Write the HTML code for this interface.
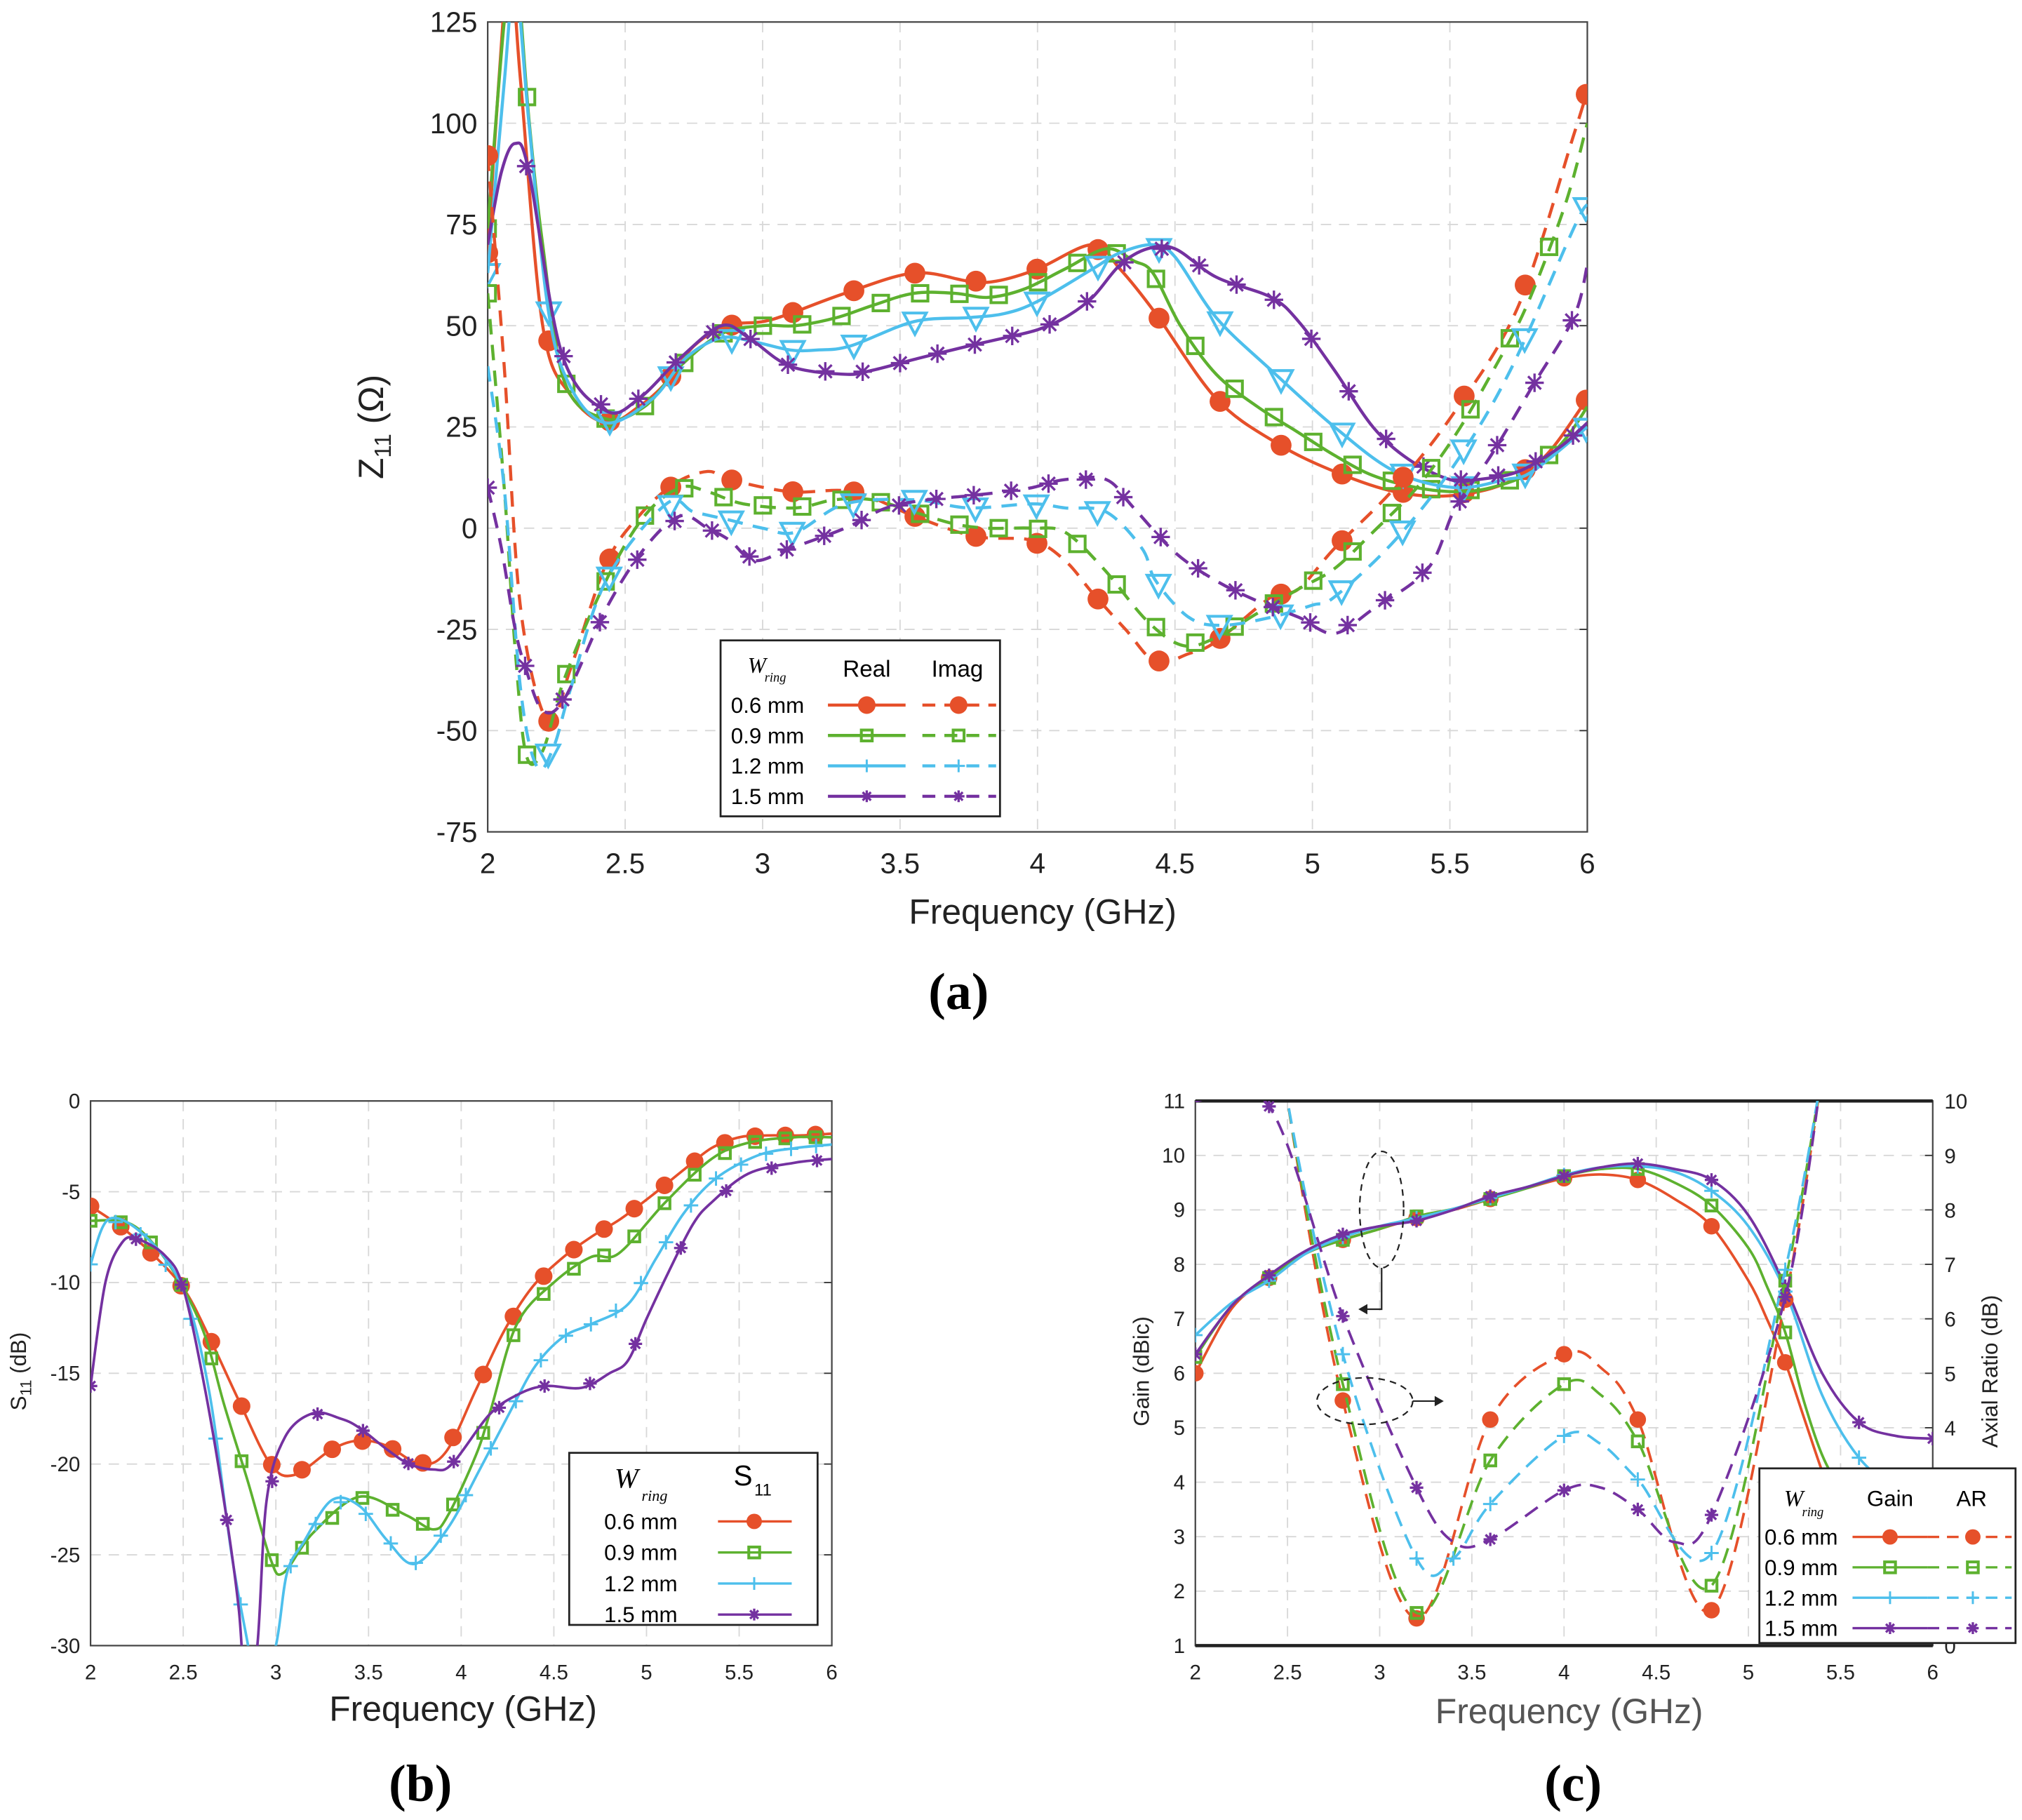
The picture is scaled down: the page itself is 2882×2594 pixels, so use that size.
<!DOCTYPE html>
<html><head><meta charset="utf-8">
<style>
html,body{margin:0;padding:0;background:#fff;}
svg{display:block;font-family:"Liberation Sans",sans-serif;}
</style></head>
<body>
<svg id="fig" width="2882" height="2594" viewBox="0 0 1563 1406.8" preserveAspectRatio="none" xmlns="http://www.w3.org/2000/svg">
<defs>
<clipPath id="clipA"><rect x="377" y="17" width="850" height="626"/></clipPath>
<clipPath id="clipB"><rect x="70" y="851" width="573" height="421"/></clipPath>
<clipPath id="clipC"><rect x="924" y="851" width="570" height="421"/></clipPath>
</defs>
<g id="root"></g>
</svg>
<script>
// ---------- Panel (a) data: Z11 real / imag ----------
const aReal06F=[2,2.04,2.08,2.12,2.2,2.3,2.43,2.55,2.65,2.75,2.87,3.0,3.1,3.3,3.55,3.75,3.85,4.0,4.2,4.3,4.43,4.65,4.87,5.08,5.3,5.5,5.7,5.85,6];
const aReal06V=[68,110,140,110,50,33,26,30,36,45,50,51,53,58,63,61,61,64,70,64,53,32,21,14,9,8,11,18,32];
const aReal09F=[2,2.06,2.1,2.15,2.2,2.28,2.43,2.57,2.7,2.85,3.0,3.12,3.27,3.4,3.55,3.7,3.82,3.95,4.1,4.25,4.35,4.42,4.52,4.65,4.8,4.94,5.08,5.22,5.38,5.52,5.65,5.8,5.92,6];
const aReal09V=[74,125,140,101,70,36,27,30,40,48,50,50,52,55,58,58,57,59,64,69,66,63,50,38,30,24,18,13,10,9,10,14,22,30];
const aReal12F=[2,2.06,2.1,2.15,2.22,2.3,2.43,2.6,2.72,2.85,2.97,3.1,3.2,3.32,3.55,3.75,3.88,4.0,4.2,4.3,4.42,4.5,4.65,4.85,5.08,5.3,5.52,5.7,5.8,6];
const aReal12V=[63,110,135,100,54,35,26,32,42,47,46,44,44,45,51,52,53,56,64,68,70,67,52,39,25,14,10,12,14,25];
const aReal15F=[2,2.05,2.1,2.15,2.27,2.43,2.55,2.7,2.85,2.95,3.1,3.3,3.4,3.57,3.75,3.88,4.0,4.1,4.2,4.3,4.4,4.5,4.65,4.85,4.95,5.08,5.22,5.35,5.5,5.6,5.75,5.9,6];
const aReal15V=[70,88,95,88,43,29,32,42,50,47,40,38,39,42,45,47,49,52,57,65,69,69,62,57,51,39,25,17,12,12,14,20,26];
const aImag06F=[2,2.06,2.12,2.22,2.3,2.43,2.55,2.68,2.8,2.88,3.1,3.33,3.55,3.77,3.98,4.1,4.2,4.32,4.43,4.55,4.65,4.85,4.95,5.08,5.3,5.52,5.75,5.95,6];
const aImag06V=[92,40,-20,-48,-35,-9,3,11,14,12,9,9,3,-2,-3,-8,-16,-25,-33,-31,-28,-17,-15,-5,10,29,55,97,108];
const aImag09F=[2,2.06,2.1,2.14,2.2,2.28,2.43,2.57,2.7,2.8,2.93,3.12,3.26,3.4,3.55,3.7,3.82,3.98,4.1,4.24,4.4,4.53,4.65,4.8,4.95,5.08,5.22,5.38,5.52,5.65,5.78,5.92,6];
const aImag09V=[58,10,-30,-56,-55,-37,-13,3,10,9,6,5,7,7,4,1,0,0,-1,-10,-23,-29,-27,-21,-15,-10,-1,10,23,38,55,80,100];
const aImag12F=[2,2.06,2.12,2.18,2.24,2.3,2.43,2.65,2.75,2.88,3.0,3.12,3.3,3.55,3.75,3.98,4.1,4.25,4.38,4.43,4.55,4.67,4.85,5.0,5.08,5.3,5.52,5.72,5.95,6];
const aImag12V=[40,10,-40,-59,-54,-40,-13,6,4,2,0,-1,6,7,5,6,5,4,-5,-13,-22,-24,-22,-19,-17,-3,16,39,74,80];
const aImag15F=[2,2.05,2.1,2.14,2.2,2.28,2.43,2.57,2.7,2.8,2.88,2.97,3.1,3.3,3.45,3.6,3.75,3.88,3.98,4.1,4.25,4.35,4.5,4.65,4.8,4.95,5.08,5.22,5.42,5.52,5.65,5.8,5.95,6];
const aImag15V=[10,-5,-25,-35,-45,-42,-20,-5,3,0,-3,-8,-5,0,5,7,8,9,10,12,12,5,-6,-13,-18,-22,-26,-20,-10,5,18,35,52,65];
const aXTicks=[2,2.5,3,3.5,4,4.5,5,5.5,6];
const aXTickLabels=["2","2.5","3","3.5","4","4.5","5","5.5","6"];
const aYTicks=[-75,-50,-25,0,25,50,75,100,125];
const aYTickLabels=["-75","-50","-25","0","25","50","75","100","125"];

// ---------- Panel (b) data: S11 ----------
const b06F=[2,2.16,2.32,2.5,2.64,2.8,2.97,3.1,3.3,3.45,3.6,3.78,3.92,4.08,4.23,4.38,4.54,4.7,4.86,5.03,5.2,5.35,5.5,5.65,5.83,6];
const b06V=[-5.8,-6.9,-8.3,-10.3,-13,-16.5,-20,-20.6,-19.2,-18.7,-19,-20,-19.3,-15.9,-12.7,-10.3,-8.7,-7.5,-6.5,-5.2,-3.8,-2.6,-2.0,-1.9,-1.9,-1.8];
const b09F=[2,2.2,2.35,2.5,2.62,2.72,2.85,2.97,3.04,3.2,3.45,3.7,3.85,3.93,4.08,4.16,4.3,4.5,4.7,4.85,5.1,5.35,5.55,5.8,6];
const b09V=[-6.6,-6.7,-8,-10.3,-13,-16.7,-21,-25.2,-26,-23.8,-21.8,-22.8,-23.6,-22.8,-19.5,-17,-12.3,-10,-8.6,-8.4,-5.6,-3.2,-2.3,-2.0,-2];
const b12F=[2,2.1,2.3,2.5,2.64,2.76,2.85,2.9,3.0,3.06,3.15,3.3,3.45,3.6,3.75,3.93,4.1,4.27,4.4,4.55,4.7,4.9,5.05,5.2,5.37,5.6,5.8,6];
const b12V=[-9,-6.5,-7.5,-10.4,-16,-24.9,-30,-33,-30,-26,-24.3,-22,-22.3,-24.2,-25.5,-23.5,-20.3,-17,-14.6,-13,-12.3,-11.2,-8.7,-6.2,-4.3,-3,-2.6,-2.4];
const b15F=[2,2.08,2.17,2.25,2.4,2.5,2.62,2.73,2.8,2.84,2.9,2.95,3.05,3.2,3.35,3.45,3.6,3.72,3.85,3.95,4.15,4.3,4.45,4.65,4.8,4.9,5.0,5.12,5.25,5.35,5.55,5.8,6];
const b15V=[-15.7,-10,-7.8,-7.6,-8.5,-10.3,-16,-22.7,-28,-33,-30,-22,-18.5,-17.2,-17.5,-18,-19.2,-20,-20.3,-20,-17.3,-16.2,-15.7,-15.8,-15,-14.3,-12,-9.4,-6.8,-5.6,-4,-3.4,-3.2];
const bXTicks=[2,2.5,3,3.5,4,4.5,5,5.5,6];
const bXTickLabels=["2","2.5","3","3.5","4","4.5","5","5.5","6"];
const bYTicks=[-30,-25,-20,-15,-10,-5,0];
const bYTickLabels=["-30","-25","-20","-15","-10","-5","0"];

// ---------- Panel (c) data: Gain and AR ----------
const cGain06F=[2,2.2,2.4,2.6,2.8,3.0,3.2,3.4,3.6,3.8,4.0,4.2,4.4,4.6,4.8,5.0,5.1,5.2,5.3,5.4,5.5];
const cGain06V=[6.0,7.2,7.75,8.2,8.45,8.65,8.85,9.0,9.2,9.4,9.58,9.65,9.55,9.2,8.7,7.7,7.0,6.2,5.2,4.2,3.3];
const cGain09F=[2,2.2,2.4,2.6,2.8,3.0,3.2,3.4,3.6,3.8,4.0,4.2,4.4,4.6,4.8,5.0,5.1,5.2,5.3,5.4,5.5,5.6];
const cGain09V=[6.3,7.25,7.75,8.2,8.45,8.65,8.88,9.02,9.2,9.4,9.62,9.75,9.75,9.5,9.08,8.3,7.6,6.75,5.5,4.5,3.9,3.6];
const cGain12F=[2,2.2,2.4,2.6,2.8,3.0,3.2,3.4,3.6,3.8,4.0,4.2,4.4,4.6,4.8,5.0,5.2,5.4,5.6,5.8,6];
const cGain12V=[6.7,7.3,7.7,8.2,8.5,8.7,8.85,9.02,9.22,9.42,9.64,9.78,9.8,9.7,9.35,8.7,7.5,5.6,4.45,3.9,3.6];
const cGain15F=[2,2.2,2.4,2.6,2.8,3.0,3.2,3.4,3.6,3.8,4.0,4.2,4.4,4.6,4.8,5.0,5.2,5.4,5.6,5.8,6];
const cGain15V=[6.35,7.25,7.8,8.25,8.55,8.7,8.8,9.0,9.25,9.42,9.62,9.78,9.85,9.75,9.55,8.9,7.6,6.0,5.1,4.85,4.8];
const cAR06F=[2.4,2.5,2.8,3.2,3.6,4.0,4.2,4.4,4.8,5.2,5.4];
const cAR06V=[13,10,4.5,0.5,4.15,5.35,5.1,4.15,0.65,6.35,10.5];
const cAR09F=[2.4,2.5,2.8,3.2,3.6,4.0,4.2,4.4,4.8,5.2,5.4];
const cAR09V=[13,10,4.8,0.6,3.4,4.8,4.6,3.75,1.1,6.7,10.5];
const cAR12F=[2.4,2.5,2.8,3.2,3.4,3.6,4.0,4.2,4.4,4.8,5.2,5.4];
const cAR12V=[13,10,5.35,1.6,1.6,2.6,3.85,3.7,3.05,1.7,6.9,10.5];
const cAR15F=[2,2.4,2.8,3.2,3.4,3.6,4.0,4.2,4.4,4.6,4.8,5.2,5.4];
const cAR15V=[10,9.9,6.05,2.9,1.9,1.95,2.85,2.9,2.5,1.9,2.4,6.4,10.5];
const cXTicks=[2,2.5,3,3.5,4,4.5,5,5.5,6];
const cXTickLabels=["2","2.5","3","3.5","4","4.5","5","5.5","6"];
const cYTicks=[1,2,3,4,5,6,7,8,9,10,11];
const cYTickLabels=["1","2","3","4","5","6","7","8","9","10","11"];
const cY2Ticks=[0,1,2,3,4,5,6,7,8,9,10];
const cY2TickLabels=["0","1","2","3","4","5","6","7","8","9","10"];

const RED="#e6502a",GRN="#5db12f",CYA="#4dbfec",PUR="#7431a0";
const NS="http://www.w3.org/2000/svg";
const root=document.getElementById('root');
function el(tag,attrs,parent,txt){const e=document.createElementNS(NS,tag);for(const k in attrs)e.setAttribute(k,attrs[k]);if(txt!==undefined)e.textContent=txt;(parent||root).appendChild(e);return e;}
function lin(d0,d1,r0,r1){return v=>r0+(v-d0)*(r1-r0)/(d1-d0);}
function smoothPath(pts){let d="M"+pts[0][0]+","+pts[0][1];for(let i=0;i<pts.length-1;i++){const p0=pts[i-1]||pts[i],p1=pts[i],p2=pts[i+1],p3=pts[i+2]||p2;const c1=[p1[0]+(p2[0]-p0[0])/6,p1[1]+(p2[1]-p0[1])/6],c2=[p2[0]-(p3[0]-p1[0])/6,p2[1]-(p3[1]-p1[1])/6];d+=` C${c1[0]},${c1[1]} ${c2[0]},${c2[1]} ${p2[0]},${p2[1]}`;}return d;}
function interp(F,V,f){for(let i=0;i<F.length-1;i++){if(f>=F[i]&&f<=F[i+1]){return V[i]+(V[i+1]-V[i])*(f-F[i])/(F[i+1]-F[i]);}}return f<F[0]?V[0]:V[V.length-1];}
function marker(g,type,x,y,color,s){
  if(type==="dot"){return el('circle',{cx:x,cy:y,r:s*0.85,fill:color},g);}
  if(type==="sq"){return el('rect',{x:x-s*0.6,y:y-s*0.6,width:s*1.2,height:s*1.2,fill:"none",stroke:color,"stroke-width":2.2},g);}
  if(type==="tri"){return el('path',{d:`M${x-s*0.8},${y-s*0.6} L${x+s*0.8},${y-s*0.6} L${x},${y+s*0.9} Z`,fill:"none",stroke:color,"stroke-width":2.2},g);}
  if(type==="plus"){return el('path',{d:`M${x-s*0.7},${y} H${x+s*0.7} M${x},${y-s*0.7} V${y+s*0.7}`,stroke:color,"stroke-width":1.6},g);}
  if(type==="star"){const r=s*0.65;return el('path',{d:`M${x-r},${y} H${x+r} M${x},${y-r} V${y+r} M${x-r*0.7},${y-r*0.7} L${x+r*0.7},${y+r*0.7} M${x-r*0.7},${y+r*0.7} L${x+r*0.7},${y-r*0.7}`,stroke:color,"stroke-width":1.8},g);}
}
function series(g,F,V,sx,sy,color,dash,w,mType,mFreqs,mSize,name){
  const p=el('path',{d:smoothPath(F.map((f,i)=>[sx(f),sy(V[i])])),fill:"none",stroke:color,"stroke-width":w,"stroke-dasharray":dash||"none"},g);
  
  
  mFreqs.forEach(f=>{const m=marker(g,mType,sx(f),sy(interp(F,V,f)),color,mSize);
    
    });
}
function steps(a,b,st){const r=[];for(let f=a;f<=b+1e-6;f+=st)r.push(+f.toFixed(3));return r;}
function frame(g,x0,y0,x1,y1,xt,xl,yt,yl,sx,sy,fs,lblOff){
  xt.forEach((t,i)=>{const x=sx(t);if(i>0&&i<xt.length-1){el('line',{x1:x,y1:y0,x2:x,y2:y1,stroke:"#d8d8d8","stroke-width":1,"stroke-dasharray":"8,6"},g);}
    el('text',{x:x,y:y1+lblOff,"font-size":fs,"text-anchor":"middle",fill:"#222"},g,xl[i]);});
  yt.forEach((t,i)=>{const y=sy(t);if(i>0&&i<yt.length-1){el('line',{x1:x0,y1:y,x2:x1,y2:y,stroke:"#d8d8d8","stroke-width":1,"stroke-dasharray":"8,6"},g);
    el('line',{x1:x1-6,y1:y,x2:x1,y2:y,stroke:"#333","stroke-width":1},g);}
    el('text',{x:x0-8,y:y+fs*0.35,"font-size":fs,"text-anchor":"end",fill:"#222"},g,yl[i]);});
  el('rect',{x:x0,y:y0,width:x1-x0,height:y1-y0,fill:"none",stroke:"#444","stroke-width":1.2},g);
}

// ================= Panel (a) =================
(function(){
  const g=el('g',{});
  const sx=lin(2,6,377,1227), sy=lin(-75,125,643,17);
  frame(g,377,17,1227,643,aXTicks,aXTickLabels,aYTicks,aYTickLabels,sx,sy,22,32);
  const d=el('g',{"clip-path":"url(#clipA)"},g);
  series(d,aReal06F,aReal06V,sx,sy,RED,null,2.4,"dot",steps(2,6,0.222),9.5,"real-0.6mm");
  series(d,aReal09F,aReal09V,sx,sy,GRN,null,2.4,"sq",steps(2,6,0.143),10,"real-0.9mm");
  series(d,aReal12F,aReal12V,sx,sy,CYA,null,2.4,"tri",steps(2,6,0.222),11,"real-1.2mm");
  series(d,aReal15F,aReal15V,sx,sy,PUR,null,2.4,"star",steps(2.14,6,0.136),11,"real-1.5mm");
  series(d,aImag06F,aImag06V,sx,sy,RED,"12,8",2.4,"dot",steps(2,6,0.222),9.5,"imag-0.6mm");
  series(d,aImag09F,aImag09V,sx,sy,GRN,"12,8",2.4,"sq",steps(2,6,0.143),10,"imag-0.9mm");
  series(d,aImag12F,aImag12V,sx,sy,CYA,"12,8",2.4,"tri",steps(2.22,6,0.222),11,"imag-1.2mm");
  series(d,aImag15F,aImag15V,sx,sy,PUR,"12,8",2.4,"star",steps(2,6,0.136),11,"imag-1.5mm");
  const t=el('text',{x:806,y:714,"font-size":27,"text-anchor":"middle",fill:"#222"},g,"Frequency (GHz)");
  const yt=el('text',{transform:"translate(296,330) rotate(-90)","font-size":27,"text-anchor":"middle",fill:"#222"},g);
  el('tspan',{},yt,"Z");el('tspan',{"font-size":18,dy:6},yt,"11");el('tspan',{dy:-6},yt," (Ω)");
  const L=el('g',{},g);
  el('rect',{x:557,y:495,width:216,height:136,fill:"#fff",stroke:"#222","stroke-width":1.5},L);
  el('text',{x:578,y:520,"font-size":17,"font-style":"italic","font-family":"Liberation Serif"},L,"W");
  el('text',{x:591,y:527,"font-size":10,"font-style":"italic","font-family":"Liberation Serif"},L,"ring");
  el('text',{x:670,y:523,"font-size":18,"text-anchor":"middle"},L,"Real");
  el('text',{x:740,y:523,"font-size":18,"text-anchor":"middle"},L,"Imag");
  const rows=[["0.6 mm",RED,"dot"],["0.9 mm",GRN,"sq"],["1.2 mm",CYA,"plus"],["1.5 mm",PUR,"star"]];
  rows.forEach((r,i)=>{const y=545+i*23.5;
    el('text',{x:565,y:y+6,"font-size":17},L,r[0]);
    el('line',{x1:640,y1:y,x2:700,y2:y,stroke:r[1],"stroke-width":2.4},L);
    el('line',{x1:713,y1:y,x2:770,y2:y,stroke:r[1],"stroke-width":2.4,"stroke-dasharray":"10,7"},L);
    const s=r[2]==="dot"?8:7;marker(L,r[2],670,y,r[1],s);marker(L,r[2],741,y,r[1],s);});
  const c=el('text',{x:741,y:780,"font-size":40,"font-weight":"bold","font-family":"Liberation Serif","text-anchor":"middle"},g,"(a)");
})();

// ================= Panel (b) =================
(function(){
  const g=el('g',{});
  const sx=lin(2,6,70,643), sy=lin(-30,0,1272,851);
  frame(g,70,851,643,1272,bXTicks,bXTickLabels,bYTicks,bYTickLabels,sx,sy,16,26);
  const d=el('g',{"clip-path":"url(#clipB)"},g);
  series(d,b06F,b06V,sx,sy,RED,null,2,"dot",steps(2,6,0.163),8,"s11-0.6mm");
  series(d,b09F,b09V,sx,sy,GRN,null,2,"sq",steps(2,6,0.163),7,"s11-0.9mm");
  series(d,b12F,b12V,sx,sy,CYA,null,2,"plus",steps(2,6,0.135),8,"s11-1.2mm");
  series(d,b15F,b15V,sx,sy,PUR,null,2,"star",steps(2,6,0.245),8,"s11-1.5mm");
  const t=el('text',{x:358,y:1330,"font-size":27,"text-anchor":"middle",fill:"#222"},g,"Frequency (GHz)");
  const yt=el('text',{transform:"translate(20,1060) rotate(-90)","font-size":17,"text-anchor":"middle",fill:"#222"},g);
  el('tspan',{},yt,"S");el('tspan',{"font-size":12,dy:4},yt,"11");el('tspan',{dy:-4},yt," (dB)");
  const L=el('g',{},g);
  el('rect',{x:440,y:1123,width:192,height:133,fill:"#fff",stroke:"#222","stroke-width":1.5},L);
  el('text',{x:475,y:1150,"font-size":22,"font-style":"italic","font-family":"Liberation Serif"},L,"W");
  el('text',{x:496,y:1160,"font-size":12,"font-style":"italic","font-family":"Liberation Serif"},L,"ring");
  el('text',{x:567,y:1148,"font-size":22},L,"S");el('text',{x:583,y:1156,"font-size":13},L,"11");
  const rows=[["0.6 mm",RED,"dot"],["0.9 mm",GRN,"sq"],["1.2 mm",CYA,"plus"],["1.5 mm",PUR,"star"]];
  rows.forEach((r,i)=>{const y=1176+i*24;
    el('text',{x:467,y:y+6,"font-size":17},L,r[0]);
    el('line',{x1:555,y1:y,x2:612,y2:y,stroke:r[1],"stroke-width":1.8},L);
    marker(L,r[2],583,y,r[1],7);});
  const c=el('text',{x:325,y:1392,"font-size":40,"font-weight":"bold","font-family":"Liberation Serif","text-anchor":"middle"},g,"(b)");
})();

// ================= Panel (c) =================
(function(){
  const g=el('g',{});
  const sx=lin(2,6,924,1494), sy=lin(1,11,1272,851), sy2=lin(0,10,1272,851);
  frame(g,924,851,1494,1272,cXTicks,cXTickLabels,cYTicks,cYTickLabels,sx,sy,16,26);
  cY2Ticks.forEach((t,i)=>{el('text',{x:1503,y:sy2(t)+6,"font-size":16,fill:"#222"},g,cY2TickLabels[i]);});
  el('line',{x1:924,y1:851,x2:1494,y2:851,stroke:"#222","stroke-width":2.5},g);
  el('line',{x1:924,y1:1272,x2:1494,y2:1272,stroke:"#222","stroke-width":2.5},g);
  const d=el('g',{"clip-path":"url(#clipC)"},g);
  const mg=steps(2,6,0.4), ma=[2.8,3.2,3.6,4.0,4.4,4.8,5.2];
  series(d,cGain06F,cGain06V,sx,sy,RED,null,2,"dot",mg.filter(f=>f<=5.2),7.5,"gain-0.6mm");
  series(d,cGain09F,cGain09V,sx,sy,GRN,null,2,"sq",mg.filter(f=>f<=5.2),7,"gain-0.9mm");
  series(d,cGain12F,cGain12V,sx,sy,CYA,null,2,"plus",mg,8,"gain-1.2mm");
  series(d,cGain15F,cGain15V,sx,sy,PUR,null,2,"star",mg,8,"gain-1.5mm");
  series(d,cAR06F,cAR06V,sx,sy2,RED,"12,7",2,"dot",ma,7.5,"ar-0.6mm");
  series(d,cAR09F,cAR09V,sx,sy2,GRN,"12,7",2,"sq",ma,7,"ar-0.9mm");
  series(d,cAR12F,cAR12V,sx,sy2,CYA,"12,7",2,"plus",ma.concat([3.4]),8,"ar-1.2mm");
  series(d,cAR15F,cAR15V,sx,sy2,PUR,"12,7",2,"star",[2.4].concat(ma),8,"ar-1.5mm");
  el('ellipse',{cx:1068,cy:935,rx:17,ry:45,fill:"none",stroke:"#222","stroke-width":1.2,"stroke-dasharray":"5,4"},g);
  el('path',{d:"M1068,980 V1012 H1052",fill:"none",stroke:"#222","stroke-width":1.2},g);
  el('path',{d:"M1050,1012 l7,-4 v8 z",fill:"#222"},g);
  el('ellipse',{cx:1055,cy:1083,rx:37,ry:18,fill:"none",stroke:"#222","stroke-width":1.2,"stroke-dasharray":"5,4"},g);
  el('path',{d:"M1092,1083 H1112",fill:"none",stroke:"#222","stroke-width":1.2},g);
  el('path',{d:"M1116,1083 l-7,-4 v8 z",fill:"#222"},g);
  const t=el('text',{x:1213,y:1332,"font-size":27,"text-anchor":"middle",fill:"#555"},g,"Frequency (GHz)");
  const yt=el('text',{transform:"translate(888,1060) rotate(-90)","font-size":17,"text-anchor":"middle",fill:"#222"},g,"Gain (dBic)");
  const yt2=el('text',{transform:"translate(1544,1060) rotate(-90)","font-size":17,"text-anchor":"middle",fill:"#222"},g,"Axial Ratio (dB)");
  const L=el('g',{},g);
  el('rect',{x:1360,y:1135,width:198,height:135,fill:"#fff",stroke:"#222","stroke-width":1.5},L);
  el('text',{x:1379,y:1164,"font-size":18,"font-style":"italic","font-family":"Liberation Serif"},L,"W");
  el('text',{x:1393,y:1172,"font-size":10,"font-style":"italic","font-family":"Liberation Serif"},L,"ring");
  el('text',{x:1461,y:1164,"font-size":17,"text-anchor":"middle"},L,"Gain");
  el('text',{x:1524,y:1164,"font-size":17,"text-anchor":"middle"},L,"AR");
  const rows=[["0.6 mm",RED,"dot"],["0.9 mm",GRN,"sq"],["1.2 mm",CYA,"plus"],["1.5 mm",PUR,"star"]];
  rows.forEach((r,i)=>{const y=1188+i*23.5;
    el('text',{x:1364,y:y+6,"font-size":17},L,r[0]);
    el('line',{x1:1432,y1:y,x2:1490,y2:y,stroke:r[1],"stroke-width":1.8},L);
    el('line',{x1:1490,y1:y,x2:1555,y2:y,stroke:r[1],"stroke-width":1.8,"stroke-dasharray":"9,6"},L);
    marker(L,r[2],1461,y,r[1],7);marker(L,r[2],1525,y,r[1],7);});
  const c=el('text',{x:1216,y:1392,"font-size":40,"font-weight":"bold","font-family":"Liberation Serif","text-anchor":"middle"},g,"(c)");
})();
</script>
</body></html>
